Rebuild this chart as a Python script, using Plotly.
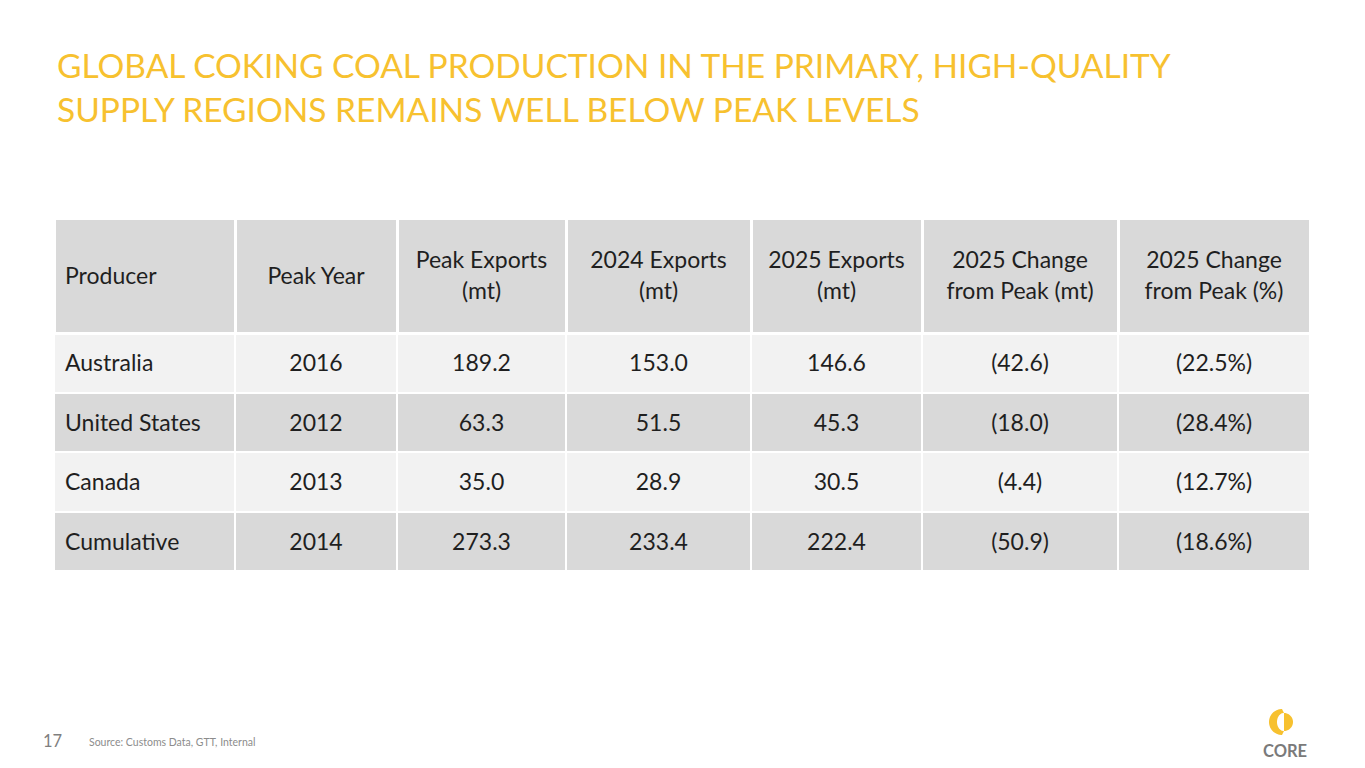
import math
import plotly.graph_objects as go

producers = ["Australia", "United States", "Canada", "Cumulative"]
peak_year = ["2016", "2012", "2013", "2014"]
peak_exports = [189.2, 63.3, 35.0, 273.3]
exports_2024 = [153.0, 51.5, 28.9, 233.4]
exports_2025 = [146.6, 45.3, 30.5, 222.4]
change_mt = [-42.6, -18.0, -4.4, -50.9]
change_pct = [-22.5, -28.4, -12.7, -18.6]

header_single = ["Producer", "Peak Year"]
header_multi = [["Peak Exports", "(mt)"], ["2024 Exports", "(mt)"], ["2025 Exports", "(mt)"],
                ["2025 Change", "from Peak (mt)"], ["2025 Change", "from Peak (%)"]]

# page is offset by the default 8px body margin
OX, OY = 8, 8
W, H = 1365 - OX, 768 - OY
FONT = "Lato"
YELLOW = "#F7C12F"
TXT = "#1F1F1F"
FS = 23


def px(sx):
    return (sx - OX) / W


def py(sy):
    return 1 - (sy - OY) / H


def fmt_num(v):
    return f"{v:.1f}"


def fmt_neg(v):
    return f"({abs(v):.1f})" if v < 0 else f"{v:.1f}"


def fmt_pct(v):
    return f"({abs(v):.1f}%)" if v < 0 else f"{v:.1f}%"


cols = [
    producers,
    peak_year,
    [fmt_num(v) for v in peak_exports],
    [fmt_num(v) for v in exports_2024],
    [fmt_num(v) for v in exports_2025],
    [fmt_neg(v) for v in change_mt],
    [fmt_pct(v) for v in change_pct],
]

row_fill = ["#F2F2F2", "#D9D9D9", "#F2F2F2", "#D9D9D9"]
edges = [54, 235, 397, 566, 751, 922, 1118, 1310]
col_widths = [edges[i + 1] - edges[i] for i in range(7)]

top = 218
head_h = 115
cell_h = 59.5
CLEAR = "rgba(0,0,0,0)"
NOLINE = dict(color=CLEAR, width=0)

fig = go.Figure()
# background table: fills and white rules
fig.add_trace(go.Table(
    domain=dict(x=[px(edges[0]), px(edges[-1])], y=[0, py(top)]),
    columnwidth=col_widths,
    header=dict(values=[""] * 7, fill_color="#D9D9D9",
                line=dict(color="white", width=3), height=head_h,
                font=dict(family=FONT, size=FS)),
    cells=dict(values=[[""] * 4] * 7, fill_color=[row_fill] * 7,
               line=dict(color="white", width=2), height=cell_h,
               font=dict(family=FONT, size=FS)),
))

# text layers (plotly tables top-align text, so the text layers are shifted down)
TXT_OFF = 16.8          # distance from row top to text centre
head_mid = top + head_h / 2
cells_top = top + head_h + cell_h / 2 - TXT_OFF
line_gap = 31

# body text, all columns
fig.add_trace(go.Table(
    domain=dict(x=[px(edges[0] + 3), px(edges[-1])], y=[0, py(cells_top - 40)]),
    columnwidth=[col_widths[0] - 3] + col_widths[1:],
    header=dict(values=[""] * 7, fill_color=CLEAR, line=NOLINE, height=40,
                font=dict(family=FONT, size=FS, color=TXT)),
    cells=dict(values=cols, fill_color=CLEAR, line=NOLINE,
               align=["left"] + ["center"] * 6, height=cell_h,
               font=dict(family=FONT, size=FS, color=TXT)),
))
# single-line headers
fig.add_trace(go.Table(
    domain=dict(x=[px(edges[0] + 3), px(edges[2])], y=[0, py(head_mid - TXT_OFF)]),
    columnwidth=[col_widths[0] - 3, col_widths[1]],
    header=dict(values=header_single, fill_color=CLEAR, line=NOLINE,
                align=["left", "center"], height=40,
                font=dict(family=FONT, size=FS, color=TXT)),
    cells=dict(values=[[], []], fill_color=CLEAR, line=NOLINE, height=cell_h,
               font=dict(family=FONT, size=FS, color=TXT)),
))
# two-line headers, one header row per line so each line is centred
fig.add_trace(go.Table(
    domain=dict(x=[px(edges[2]), px(edges[-1])],
                y=[0, py(head_mid - line_gap / 2 - TXT_OFF)]),
    columnwidth=col_widths[2:],
    header=dict(values=header_multi, fill_color=CLEAR, line=NOLINE,
                align="center", height=line_gap,
                font=dict(family=FONT, size=FS, color=TXT)),
    cells=dict(values=[[] for _ in header_multi], fill_color=CLEAR, line=NOLINE,
               height=cell_h, font=dict(family=FONT, size=FS, color=TXT)),
))

fig.add_annotation(
    text="GLOBAL COKING COAL PRODUCTION IN THE PRIMARY, HIGH-QUALITY<br>SUPPLY REGIONS REMAINS WELL BELOW PEAK LEVELS",
    xref="paper", yref="paper", x=px(55), y=py(43), xanchor="left", yanchor="top",
    align="left", showarrow=False,
    font=dict(family=FONT, size=33.5, color=YELLOW),
)
fig.add_annotation(
    text="17", xref="paper", yref="paper", x=px(41), y=py(741),
    xanchor="left", yanchor="middle", showarrow=False,
    font=dict(family=FONT, size=16.5, color="#7F7F7F"),
)
fig.add_annotation(
    text="Source: Customs Data, GTT, Internal", xref="paper", yref="paper",
    x=px(87), y=py(741.5), xanchor="left", yanchor="middle", showarrow=False,
    font=dict(family=FONT, size=10.5, color="#8C8C8C"),
)
fig.add_annotation(
    text="<b>CORE</b>", xref="paper", yref="paper",
    x=px(1285), y=py(751), xanchor="center", yanchor="middle", showarrow=False,
    font=dict(family=FONT, size=16.5, color="#7A7A7A"),
)

# logo: C-arc on left, half-disc on right
cx, cy, R, r = 1283, 722, 13, 7
pts = []
for i in range(0, 41):
    a = math.pi / 2 + math.pi * i / 40
    pts.append((cx - 1 + R * math.cos(a), cy - R * math.sin(a)))
for i in range(40, -1, -1):
    a = math.pi / 2 + math.pi * i / 40
    pts.append((cx + 1 + r * math.cos(a), cy - r * math.sin(a) * 1.3))
path = "M " + " L ".join(f"{px(x):.5f},{py(y):.5f}" for x, y in pts) + " Z"
fig.add_shape(type="path", path=path, xref="paper", yref="paper",
              fillcolor=YELLOW, line=dict(width=0))
pts2 = []
for i in range(0, 41):
    a = -math.pi / 2 + math.pi * i / 40
    pts2.append((cx + 1 + 9 * math.cos(a), cy - 9 * math.sin(a)))
path2 = "M " + " L ".join(f"{px(x):.5f},{py(y):.5f}" for x, y in pts2) + " Z"
fig.add_shape(type="path", path=path2, xref="paper", yref="paper",
              fillcolor=YELLOW, line=dict(width=0))

fig.update_layout(
    width=W, height=H,
    margin=dict(l=0, r=0, t=0, b=0),
    paper_bgcolor="white", plot_bgcolor="white",
    xaxis=dict(visible=False), yaxis=dict(visible=False),
)
fig.write_html("out.html")
